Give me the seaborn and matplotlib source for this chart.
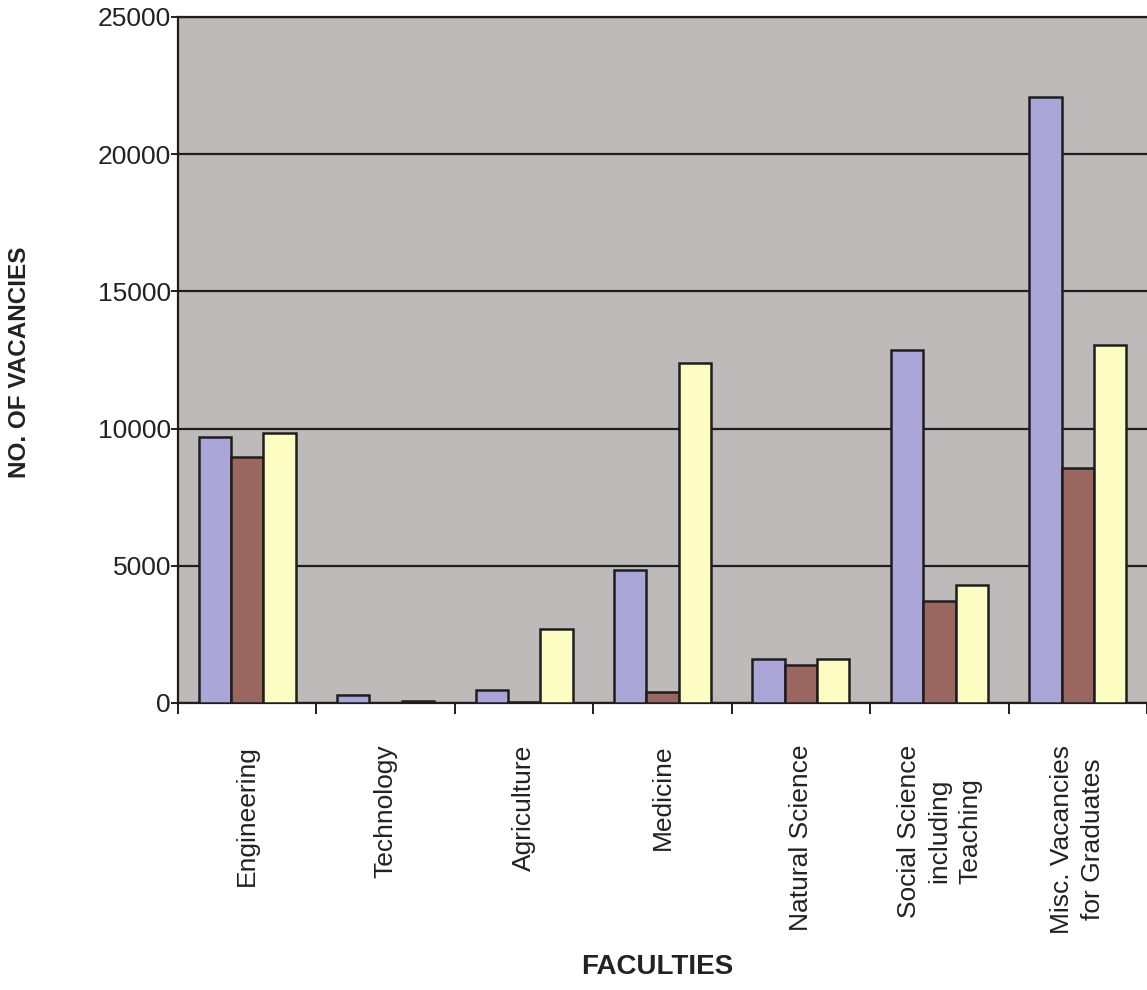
import matplotlib.pyplot as plt
import seaborn as sns
import pandas as pd

faculties = ["Engineering", "Technology", "Agriculture", "Medicine",
             "Natural Science", "Social Science\nincluding\nTeaching",
             "Misc. Vacancies\nfor Graduates"]
series_names = ["Series 1", "Series 2", "Series 3"]
series_1 = [9700, 300, 460, 4850, 1600, 12850, 22100]
series_2 = [8950, 0, 50, 400, 1380, 3720, 8550]
series_3 = [9850, 70, 2680, 12400, 1600, 4300, 13050]
yticks = [0, 5000, 10000, 15000, 20000, 25000]

colors = ["#aaa6d8", "#9a6760", "#fdfcc2"]

# long form table for seaborn
rows = []
for name, vals in zip(series_names, [series_1, series_2, series_3]):
    for fac, v in zip(faculties, vals):
        rows.append({"Faculty": fac, "Series": name, "Vacancies": v})
df = pd.DataFrame(rows)

sns.set_style("white")
plt.rcParams["font.family"] = ["Liberation Sans", "DejaVu Sans"]

fig = plt.figure(figsize=(11.47, 9.9), dpi=100)
ax = fig.add_axes([178 / 1147, 287 / 990, (1147 - 178) / 1147, 686 / 990])
ax.set_facecolor("#bdbab9")

sns.barplot(data=df, x="Faculty", y="Vacancies", hue="Series", palette=colors,
            width=0.7, edgecolor="#1e1e1e", linewidth=1.8, saturation=1,
            legend=False, ax=ax, zorder=3)

ax.set_xlim(-0.5, 6.5)
ax.set_ylim(0, 25000)
ax.set_yticks(yticks)
ax.set_yticklabels([str(t) for t in yticks], fontsize=19, color="#222222")
ax.grid(axis="y", color="#1e1e1e", linewidth=1.6, zorder=1)
ax.set_axisbelow(True)

# labels at group centres, tick marks at group boundaries
ax.set_xticks(range(len(faculties)))
ax.set_xticklabels(faculties, rotation=90, fontsize=19, color="#222222",
                   linespacing=1.35)
ax.set_xticks([i - 0.5 for i in range(len(faculties) + 1)], minor=True)
ax.tick_params(axis="x", which="major", length=0, pad=30)
ax.tick_params(axis="x", which="minor", length=8, width=1.4, color="#1e1e1e",
               direction="out", bottom=True)
ax.tick_params(axis="y", length=5, width=1.4, color="#1e1e1e", pad=0, left=True)

for side in ["left", "bottom", "top"]:
    ax.spines[side].set_color("#1e1e1e")
    ax.spines[side].set_linewidth(1.6)
ax.spines["right"].set_visible(False)

ax.set_xlabel("")
ax.set_ylabel("")
fig.text(20 / 1147, 1 - 362 / 990, "NO. OF VACANCIES", rotation=90,
         fontsize=17.5, fontweight="bold", color="#222222",
         ha="center", va="center")
fig.text(657 / 1147, 1 - 967 / 990, "FACULTIES", fontsize=20,
         fontweight="bold", color="#222222", ha="center", va="center")

fig.savefig("out.png", dpi=100, facecolor="white")
